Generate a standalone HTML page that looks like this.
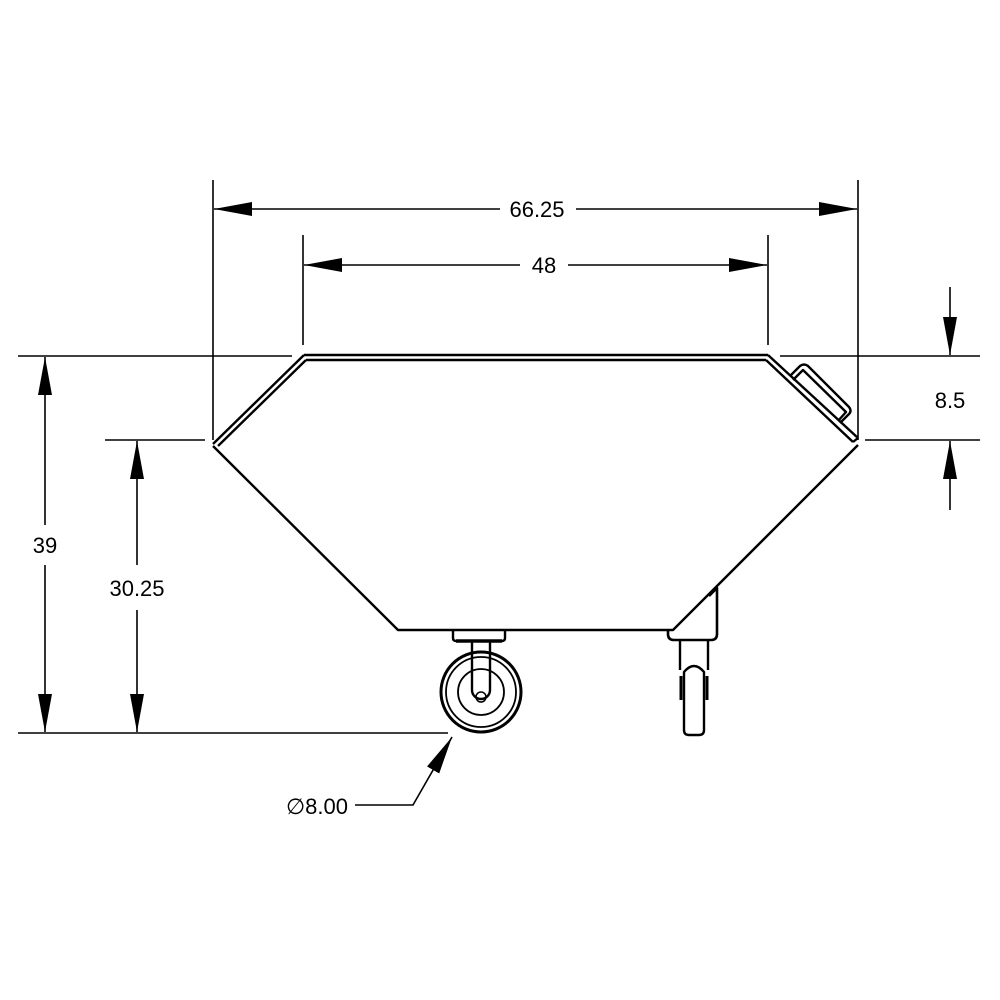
<!DOCTYPE html>
<html><head><meta charset="utf-8"><style>
html,body{margin:0;padding:0;background:#fff;}
svg{display:block;}
text{font-family:"Liberation Sans",sans-serif;font-size:22px;fill:#000;}
</style></head><body>
<svg width="1000" height="1000" viewBox="0 0 1000 1000" xmlns="http://www.w3.org/2000/svg">
<defs>
<marker id="a" markerWidth="38" markerHeight="14" refX="38" refY="7" orient="auto" markerUnits="userSpaceOnUse">
<path d="M0,0 L38,7 L0,14 Z" fill="#000"/>
</marker>
</defs>
<g stroke="#000" stroke-width="1.6" fill="none">
<!-- extension lines -->
<line x1="213" y1="180" x2="213" y2="440"/>
<line x1="858" y1="180" x2="858" y2="440"/>
<line x1="303" y1="235" x2="303" y2="345"/>
<line x1="768" y1="235" x2="768" y2="345"/>
<line x1="18" y1="356" x2="292" y2="356"/>
<line x1="105" y1="440" x2="205" y2="440"/>
<line x1="18" y1="733" x2="448" y2="733"/>
<line x1="780" y1="356" x2="980" y2="356"/>
<line x1="865" y1="440" x2="980" y2="440"/>
<!-- dimension lines -->
<line x1="500" y1="209" x2="214" y2="209" marker-end="url(#a)"/>
<line x1="576" y1="209" x2="857" y2="209" marker-end="url(#a)"/>
<line x1="520" y1="265" x2="304" y2="265" marker-end="url(#a)"/>
<line x1="568" y1="265" x2="767" y2="265" marker-end="url(#a)"/>
<line x1="45" y1="525" x2="45" y2="357" marker-end="url(#a)"/>
<line x1="45" y1="565" x2="45" y2="732" marker-end="url(#a)"/>
<line x1="137" y1="565" x2="137" y2="441" marker-end="url(#a)"/>
<line x1="137" y1="610" x2="137" y2="732" marker-end="url(#a)"/>
<line x1="950" y1="287" x2="950" y2="355" marker-end="url(#a)"/>
<line x1="950" y1="510" x2="950" y2="441" marker-end="url(#a)"/>
<!-- leader -->
<polyline points="355,805 413,805 452,737" marker-end="url(#a)"/>
</g>
<g stroke="#000" stroke-width="2.4" fill="none" stroke-linejoin="round">
<!-- top edge double -->
<line x1="304" y1="355" x2="768" y2="355"/>
<line x1="306" y1="360" x2="766" y2="360"/>
<!-- left chamfer double -->
<line x1="213" y1="444" x2="304" y2="355"/>
<line x1="218" y1="446" x2="306" y2="360"/>
<!-- right chamfer double -->
<line x1="768" y1="355" x2="858" y2="438"/>
<line x1="766" y1="360" x2="853" y2="442"/>
<line x1="853" y1="442" x2="858" y2="438"/>
<!-- body -->
<polyline points="213,446 398,630 673,630 858,445"/>
<!-- handle -->
<path d="M790,376 L800,366 Q804,363 808,366 L849,407 Q852,411 849,414 L840,423" />
<path d="M793,380 L803,370 L846,412 L838,421"/>
<!-- bracket -->
<path d="M709,596 L717,588 L717,634 Q717,640 711,640 L674,640 Q668,640 668,634 L668,631" stroke-width="2.6"/>
<!-- left caster -->
<path d="M453,630 L453,638 Q453,641 456,641 L502,641 Q505,641 505,638 L505,630"/>
<line x1="456" y1="641" x2="502" y2="641" stroke-width="3.5"/>
<circle cx="481" cy="692" r="40" stroke-width="3"/>
<circle cx="481" cy="692" r="35" stroke-width="1.8"/>
<circle cx="481" cy="692" r="23" stroke-width="1.8"/>
<path d="M472,642 L472,690 A9,9 0 0 0 490,690 L490,642"/>
<circle cx="481" cy="697" r="5" stroke-width="1.5"/>
<!-- right caster -->
<line x1="680" y1="641" x2="680" y2="670"/>
<line x1="708" y1="641" x2="708" y2="670"/>
<path d="M684,672 Q694,660 704,672 L704,730 Q704,735 699,735 L689,735 Q684,735 684,730 Z"/>
<line x1="681" y1="676" x2="681" y2="700" stroke-width="3"/>
<line x1="707" y1="676" x2="707" y2="700" stroke-width="3"/>
</g>
<text x="537" y="217" text-anchor="middle">66.25</text>
<text x="544" y="273" text-anchor="middle">48</text>
<text x="950" y="408" text-anchor="middle">8.5</text>
<text x="45" y="553" text-anchor="middle">39</text>
<text x="137" y="596" text-anchor="middle">30.25</text>
<text x="348" y="814" text-anchor="end">∅8.00</text>
</svg>
</body></html>
